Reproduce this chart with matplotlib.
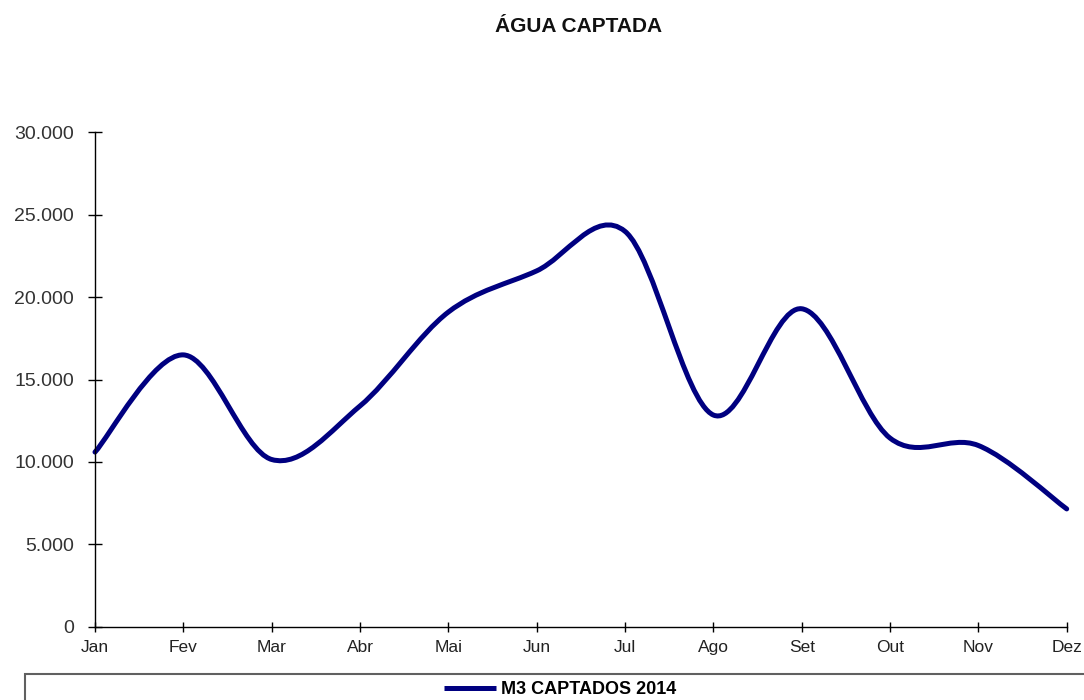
import matplotlib
matplotlib.use("Agg")
import matplotlib.pyplot as plt
from matplotlib.path import Path
from matplotlib.patches import PathPatch, Rectangle
from matplotlib.lines import Line2D
from matplotlib.ticker import FuncFormatter, MultipleLocator

months = ["Jan", "Fev", "Mar", "Abr", "Mai", "Jun", "Jul", "Ago", "Set", "Out", "Nov", "Dez"]
m3_captados_2014 = [10600, 16500, 10150, 13400, 19100, 21600, 24000, 12850, 19300, 11450, 11000, 7150]
series_name = "M3 CAPTADOS 2014"
title = "ÁGUA CAPTADA"

plt.rcParams['font.family'] = ['Liberation Sans', 'DejaVu Sans']

fig = plt.figure(figsize=(10.84, 7.0), dpi=100)
ax = fig.add_axes([95 / 1084, 1 - 626.7 / 700, (1066.7 - 95) / 1084, (626.7 - 132.5) / 700])

# Excel-style smoothed line: cubic Bezier through data points
xs = list(range(len(months)))
ys = m3_captados_2014
n = len(xs)
verts = [(xs[0], ys[0])]
codes = [Path.MOVETO]
for i in range(n - 1):
    p0 = (xs[max(i - 1, 0)], ys[max(i - 1, 0)])
    p1 = (xs[i], ys[i])
    p2 = (xs[i + 1], ys[i + 1])
    p3 = (xs[min(i + 2, n - 1)], ys[min(i + 2, n - 1)])
    c1 = (p1[0] + (p2[0] - p0[0]) / 6, p1[1] + (p2[1] - p0[1]) / 6)
    c2 = (p2[0] - (p3[0] - p1[0]) / 6, p2[1] - (p3[1] - p1[1]) / 6)
    verts += [c1, c2, p2]
    codes += [Path.CURVE4] * 3
line_color = "#000080"
patch = PathPatch(Path(verts, codes), facecolor="none", edgecolor=line_color,
                  lw=3.6, capstyle="round", joinstyle="round", clip_on=False)
ax.add_patch(patch)

ax.set_xlim(0, n - 1)
ax.set_ylim(0, 30000)
ax.set_xticks(xs)
ax.set_xticklabels(months)
ax.yaxis.set_major_locator(MultipleLocator(5000))
ax.yaxis.set_major_formatter(FuncFormatter(lambda v, p: f"{int(v):,}".replace(",", ".")))

for s in ["top", "right"]:
    ax.spines[s].set_visible(False)
for s in ["left", "bottom"]:
    ax.spines[s].set_color("black")
    ax.spines[s].set_linewidth(1.0)

ax.tick_params(axis="y", direction="inout", length=10, width=1, pad=10,
               labelsize=14, labelcolor="#333333")
ax.tick_params(axis="x", direction="inout", length=6.5, width=1, pad=6.5,
               labelsize=12.5, labelcolor="#222222")

fig.text(579 / 1084, 1 - 27 / 700, title, ha="center", va="center",
         fontsize=15, fontweight="bold", color="#111111")

# legend box (partly outside the image)
fig.patches.append(Rectangle((25 / 1084, -0.05), 1.2, 0.05 + 1 - 674 / 700,
                             transform=fig.transFigure, facecolor="none",
                             edgecolor="#606060", lw=1.5, clip_on=False))
handle = Line2D([], [], color=line_color, lw=3.6, solid_capstyle="butt")
leg = fig.legend([handle], [series_name], loc="center",
                 bbox_to_anchor=(560 / 1084, 1 - 690 / 700), frameon=False,
                 handlelength=2.9, handletextpad=0.25, borderpad=0,
                 prop={"size": 13, "weight": "bold"})

fig.savefig("out.png", dpi=100)
